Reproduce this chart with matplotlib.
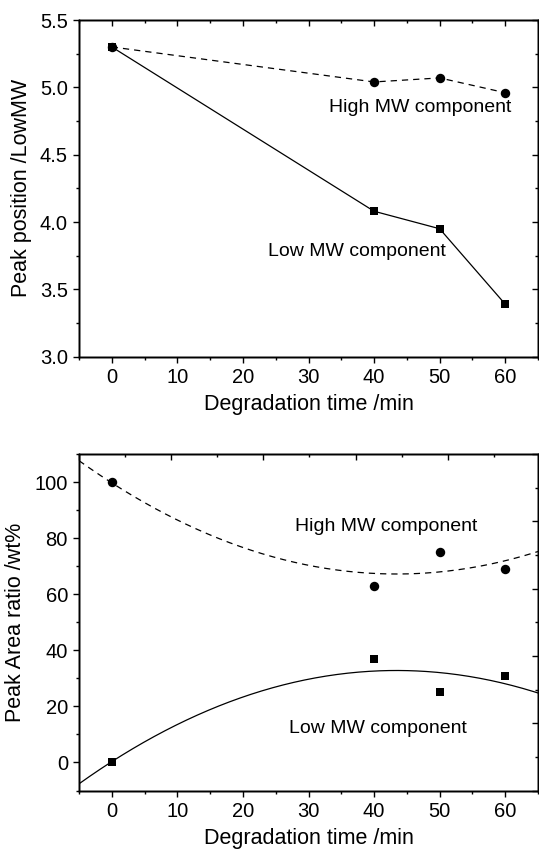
import numpy as np
import matplotlib
matplotlib.use('Agg')
from matplotlib import pyplot as plt
from matplotlib.ticker import MultipleLocator, NullFormatter

# degradation time in minutes
time_min = [0, 40, 50, 60]

# peak position (log MW) of both components
peak_high = [5.30, 5.04, 5.07, 4.96]
peak_low = [5.30, 4.08, 3.95, 3.39]

# peak area ratio in wt%
area_high = [100, 63, 75, 69]
area_low = [0, 37, 25, 31]

plt.close('all')
plt.rcParams["font.family"] = ["Liberation Sans", "DejaVu Sans"]
plt.rcParams["font.size"] = 14.5
plt.rcParams["axes.linewidth"] = 1.0
plt.rcParams["xtick.major.width"] = 1.0
plt.rcParams["ytick.major.width"] = 1.0
plt.rcParams["xtick.minor.width"] = 1.0
plt.rcParams["ytick.minor.width"] = 1.0
plt.rcParams["xtick.major.size"] = 4.0
plt.rcParams["ytick.major.size"] = 4.0
plt.rcParams["xtick.minor.size"] = 2.3
plt.rcParams["ytick.minor.size"] = 2.3
plt.rcParams["xtick.major.pad"] = 4.0
plt.rcParams["ytick.major.pad"] = 4.0

W, H = 539, 851
fig = plt.figure(figsize=(W / 100, H / 100), dpi=100)

ax1 = fig.add_axes([79 / W, 1 - 356.7 / H, 459 / W, 336.7 / H])
ax2 = fig.add_axes([79 / W, 1 - 790.5 / H, 459 / W, 336.5 / H])

circ = dict(color='k', markersize=6.8, markeredgewidth=0)
sq = dict(color='k', markersize=5.8, markeredgewidth=0)


def frame(ax, ylim, ymaj, ymin, top_lim, top_maj, right_lim, right_maj):
    ax.set_xlim(-5, 65)
    ax.set_ylim(*ylim)
    ax.xaxis.set_major_locator(MultipleLocator(10))
    ax.xaxis.set_minor_locator(MultipleLocator(5))
    ax.yaxis.set_major_locator(MultipleLocator(ymaj))
    ax.yaxis.set_minor_locator(MultipleLocator(ymin))
    ax.tick_params(which='both', direction='out')
    ax.set_xlabel('Degradation time /min', fontsize=15.5, labelpad=5)
    # mirrored axes on top and right with inward ticks
    top = ax.twiny()
    top.set_xlim(*top_lim)
    top.xaxis.set_major_locator(MultipleLocator(top_maj))
    top.xaxis.set_minor_locator(MultipleLocator(top_maj / 2))
    top.xaxis.set_major_formatter(NullFormatter())
    top.tick_params(which='both', direction='in')
    right = ax.twinx()
    right.set_ylim(*right_lim)
    right.yaxis.set_major_locator(MultipleLocator(right_maj))
    right.yaxis.set_minor_locator(MultipleLocator(right_maj / 2))
    right.yaxis.set_major_formatter(NullFormatter())
    right.tick_params(which='both', direction='in')
    return top, right


# peak position
frame(ax1, (3.0, 5.5), 0.5, 0.25, (-5, 65), 10, (3.0, 5.5), 0.5)
ax1.plot(time_min, peak_low, 'k-', lw=0.9, marker='s', **sq)
ax1.plot(time_min, peak_high, 'k', ls=(0, (5, 4)), lw=0.9, marker='o', **circ)
ax1.set_ylabel('Peak position /LowMW', fontsize=15.5, labelpad=6)
ax1.text(47.1, 4.82, 'High MW component', ha='center', va='baseline', fontsize=14)
ax1.text(37.4, 3.745, 'Low MW component', ha='center', va='baseline', fontsize=14)

# peak area ratio with quadratic fits
frame(ax2, (-10, 110), 20, 10, (0, 4.98), 1, (3.0, 5.5), 0.5)
xf = np.linspace(-5, 65, 300)
fit_high = np.polyfit(time_min, area_high, 2)
fit_low = np.polyfit(time_min, area_low, 2)
ax2.plot(xf, np.polyval(fit_high, xf), 'k', ls=(0, (5, 4)), lw=0.9)
ax2.plot(xf, np.polyval(fit_low, xf), 'k-', lw=0.9)
ax2.plot(time_min, area_high, 'o', ls='none', **circ)
ax2.plot(time_min, area_low, 's', ls='none', **sq)
ax2.set_ylabel('Peak Area ratio /wt%', fontsize=15.5, labelpad=6)
ax2.text(41.9, 82.7, 'High MW component', ha='center', va='baseline', fontsize=14)
ax2.text(40.6, 10.4, 'Low MW component', ha='center', va='baseline', fontsize=14)

fig.savefig('out.png', dpi=100)
